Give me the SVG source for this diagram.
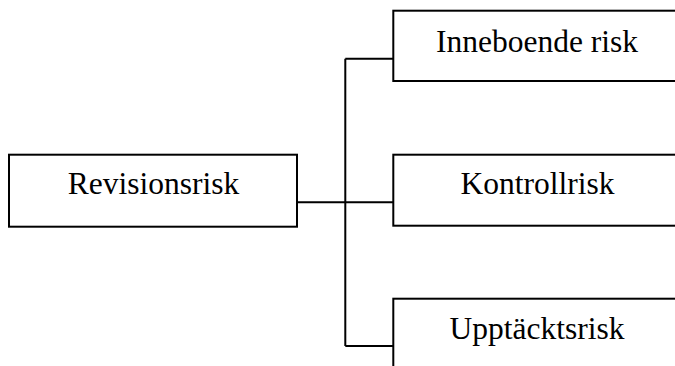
<svg xmlns="http://www.w3.org/2000/svg" width="675" height="366" viewBox="0 0 675 366">
<style>
.box{fill:#fff;stroke:#000;stroke-width:2}
.lbl{font-family:"Liberation Serif","Times New Roman",serif;font-size:31.5px;fill:#000;text-anchor:middle}
.con{fill:none;stroke:#000;stroke-width:2}
</style>
<rect width="675" height="366" fill="#fff"/>
<g id="connectors">
<path class="con" d="M297 202.3 H393.3 M345.3 58.7 V346 M345.3 58.7 H393.3 M345.3 346 H393.3"/>
</g>
<g id="revisionsrisk">
<rect class="box" x="9" y="154.7" width="288" height="72"/>
<text class="lbl" x="153.5" y="194">Revisionsrisk</text>
</g>
<g id="inneboende">
<rect class="box" x="393.3" y="10.7" width="290" height="70.3"/>
<text class="lbl" x="537" y="51.7">Inneboende risk</text>
</g>
<g id="kontrollrisk">
<rect class="box" x="393.3" y="154.7" width="290" height="71"/>
<text class="lbl" x="537.5" y="194.3">Kontrollrisk</text>
</g>
<g id="upptacktsrisk">
<rect class="box" x="393.3" y="298.7" width="290" height="80"/>
<text class="lbl" x="537" y="339.3">Upptäcktsrisk</text>
</g>
</svg>
